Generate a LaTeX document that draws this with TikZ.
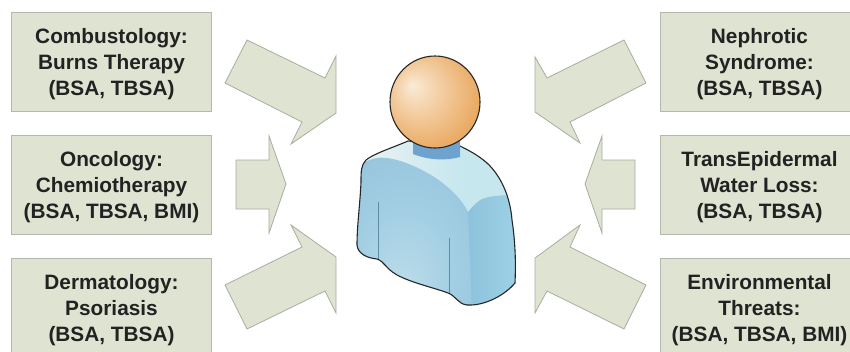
\documentclass[tikz,border=0pt]{standalone}
\usepackage{fontspec}
\setmainfont{Liberation Sans}
\definecolor{boxfill}{HTML}{DFE3D2}
\definecolor{boxline}{HTML}{B4B8AC}
\definecolor{arrowline}{HTML}{A9AD9F}
\definecolor{darktext}{HTML}{222222}
\definecolor{neckblue}{HTML}{6FA3CF}
\definecolor{seamblue}{HTML}{5F8AA8}
\definecolor{topa}{HTML}{EEF3F3}
\definecolor{topb}{HTML}{C6E7EE}
\definecolor{slva}{HTML}{8CC2DC}
\definecolor{slvb}{HTML}{9FD2E6}
\pgfdeclareradialshading{headshade}{\pgfpoint{-13bp}{9bp}}{
  rgb(0bp)=(0.98,0.92,0.85);
  rgb(10bp)=(0.96,0.83,0.68);
  rgb(28bp)=(0.92,0.68,0.41);
  rgb(46bp)=(0.86,0.54,0.20);
  rgb(50bp)=(0.84,0.50,0.16)}
\pgfdeclareradialshading{panelshade}{\pgfpoint{-4bp}{-20bp}}{
  rgb(0bp)=(0.74,0.87,0.92);
  rgb(20bp)=(0.64,0.81,0.89);
  rgb(50bp)=(0.54,0.74,0.85)}
\tikzset{
  infobox/.style={draw=boxline,line width=1pt,fill=boxfill,anchor=north west,inner sep=0pt,
    minimum height=99pt,align=center,text=darktext,
    font=\fontsize{20.8pt}{26pt}\selectfont\bfseries,
    text depth=0.4pt},
  leftbox/.style={infobox,minimum width=200pt},
  rightbox/.style={infobox,minimum width=198pt},
  blockarrow/.style={draw=arrowline,line width=0.8pt,fill=boxfill,line join=miter},
  outline/.style={draw=black!85,line width=1.1pt},
  seam/.style={draw=seamblue,line width=0.7pt}
}
\begin{document}
\begin{tikzpicture}[x=1pt,y=-1pt]
\clip (0,0) rectangle (850,351);
\fill[white] (0,0) rectangle (850,351);
% boxes
\node[leftbox] (combust) at (11,12) {Combustology:\\Burns Therapy\\(BSA, TBSA)};
\node[leftbox] (onco) at (11,135) {Oncology:\\Chemiotherapy\\(BSA, TBSA, BMI)};
\node[leftbox] (derma) at (11,258) {Dermatology:\\Psoriasis\\(BSA, TBSA)};
\node[rightbox] (nephro) at (660,12) {Nephrotic\\Syndrome:\\(BSA, TBSA)};
\node[rightbox] (tewl) at (660,135) {TransEpidermal\\Water Loss:\\(BSA, TBSA)};
\node[rightbox] (enviro) at (660,258) {Environmental\\Threats:\\(BSA, TBSA, BMI)};
% block arrows
\draw[blockarrow] (247,40)--(325,78)--(336,56)--(336,113)--(291,144)--(302,122)--(225,83)--cycle;
\draw[blockarrow] (236,160)--(269,160)--(269,136)--(286,184)--(269,233)--(269,209)--(236,209)--cycle;
\draw[blockarrow] (225,285)--(302,247)--(291,225)--(336,257)--(336,313)--(325,291)--(247,329)--cycle;
\draw[blockarrow] (624,40)--(547,78)--(535,57)--(535,112)--(580,143)--(570,122)--(646,83)--cycle;
\draw[blockarrow] (635,160)--(602,160)--(602,136)--(585,184)--(602,233)--(602,209)--(635,209)--cycle;
\draw[blockarrow] (646,285)--(570,247)--(580,225)--(535,258)--(535,313)--(547,291)--(624,329)--cycle;
% body
\def\bodypath{(408,141) .. controls (392,148) and (375,153) .. (366,160)
  .. controls (361,165) and (361,172) .. (361,182)
  .. controls (360,205) and (357,225) .. (357,245)
  .. controls (358,254) and (367,258) .. (377,259)
  .. controls (385,262) and (385,268) .. (397,275)
  .. controls (412,283) and (435,288) .. (448,293)
  .. controls (456,296) and (458,304) .. (467,305)
  .. controls (485,306) and (505,295) .. (515,283)
  .. controls (516,260) and (515,240) .. (512,220)
  .. controls (510,195) and (500,175) .. (487,163)
  .. controls (478,155) and (468,150) .. (460,146) -- cycle}
\begin{scope}
\clip \bodypath;
\fill[topb] (440,135) rectangle (520,215);
\shade[left color=topa,right color=topb] (355,135) rectangle (460,215);
% right sleeve
\shade[left color=slva,right color=slvb]
 (466,312) -- (468,212) .. controls (474,205) and (478,201) .. (482,199) .. controls (490,196) and (500,195) .. (520,195) -- (520,312) -- cycle;
% front panel
\shade[shading=panelshade]
 (350,312) -- (350,165) -- (363,163) .. controls (372,158) and (380,157) .. (387,158)
 .. controls (403,160) and (425,170) .. (440,181)
 .. controls (452,190) and (462,200) .. (468,212)
 -- (472,312) -- cycle;
\end{scope}
\draw[seam] (378,202) -- (378,260);
\draw[seam] (449,238) -- (449,293);
\draw[outline] \bodypath;
% neck
\fill[neckblue] (413,138) -- (413,154) .. controls (428,160) and (445,161) .. (460,157) -- (460,138) -- cycle;
% head
\shade[shading=headshade,draw=black!85,line width=1.1pt]
  (435,102) circle[x radius=45,y radius=46];
\end{tikzpicture}
\end{document}
